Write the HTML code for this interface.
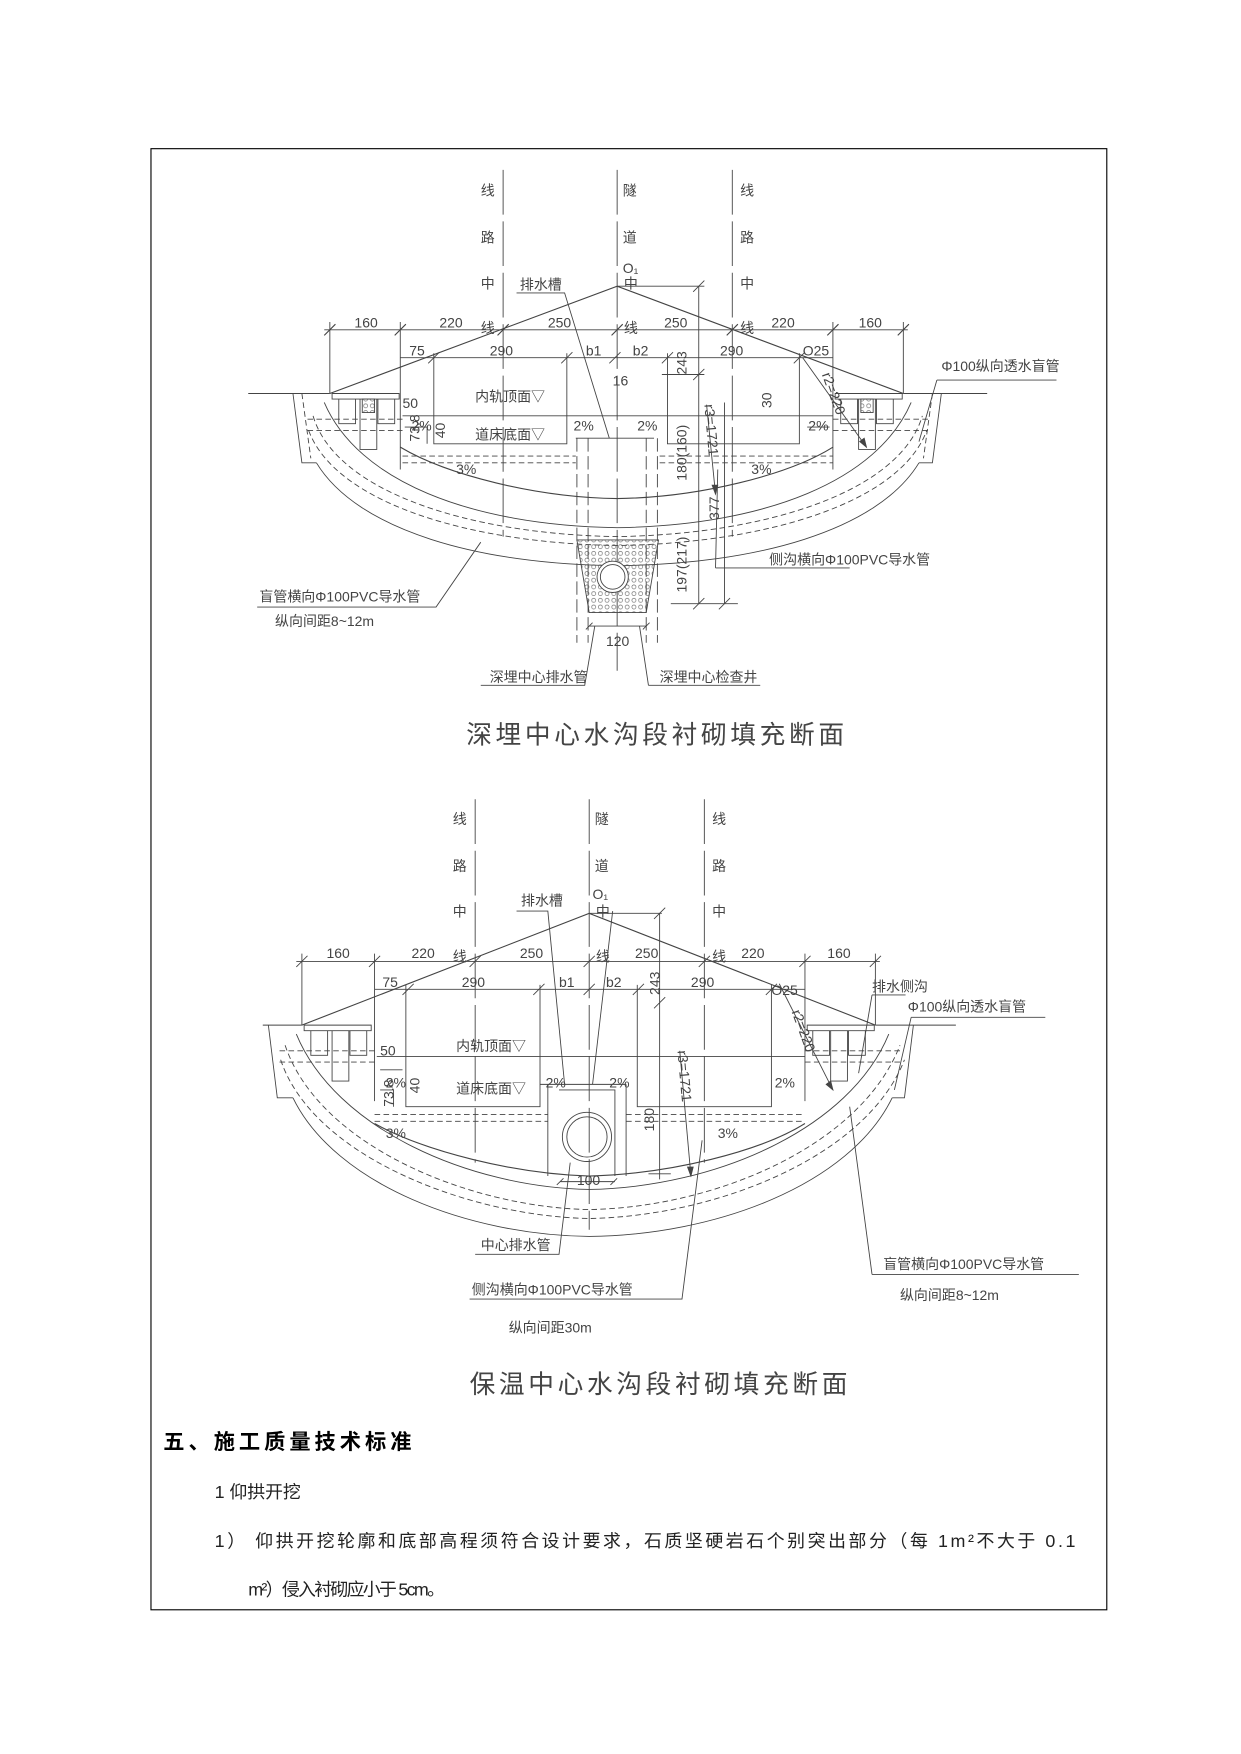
<!DOCTYPE html>
<html><head><meta charset="utf-8"><style>
html,body{margin:0;padding:0;background:#fff}
svg{display:block}
.t{font-family:"Liberation Sans","Noto Sans CJK SC",sans-serif;fill:#444;font-size:12.5px}
.c{font-family:"Liberation Sans","Noto Sans CJK SC",sans-serif;fill:#444;font-size:14px}
</style></head><body>
<svg width="1241" height="1754" viewBox="0 0 1110 1569" xmlns="http://www.w3.org/2000/svg">
<rect x="135" y="133" width="855" height="1307" fill="none" stroke="#000" stroke-width="1"/>
<defs>
<pattern id="grv" width="6" height="6" patternUnits="userSpaceOnUse"><circle cx="3" cy="3" r="1.8" fill="none" stroke="#555" stroke-width="0.5"/></pattern>
</defs>

<!-- ============ DIAGRAM 1 ============ -->
<g stroke="#444" stroke-width="0.8" fill="none">
 <path d="M450,152V480 M552,152V600 M655,152V480" stroke-dasharray="40,6" stroke-width="0.8"/>
 <path d="M222,352H295 M808,352H883"/>
 <path d="M295,352L552,256L808,352" stroke-width="1"/>
 <path d="M552,256H630"/>
 <!-- top dims -->
 <path d="M290,295H812"/>
 <path d="M295,288V352 M358,288V420 M745,288V420 M808,288V352"/>
 <path d="M290,300l10,-10 M353,300l10,-10 M445,300l10,-10 M547,300l10,-10 M650,300l10,-10 M740,300l10,-10 M803,300l10,-10" stroke-width="1"/>
 <path d="M358,320H745"/>
 <path d="M383,325l10,-10 M502,325l10,-10 M545,325l10,-10 M592,325l10,-10 M710,325l10,-10"/>
 <path d="M388,316V397H507V316 M597,316V397H715V316"/>
 <path d="M360,372H745 M362,382H382V397 M515,392H585 M722,382H742"/>
 <!-- drains side -->
 <path d="M297,352h60v5h-60z M303,357h15v22h-15z M322,357h15v45h-15z M338,357h15v22h-15z"/>
 <path d="M747,352h60v5h-60z M752,357h15v22h-15z M768,357h15v45h-15z M784,357h15v22h-15z"/>
 <rect x="324" y="357" width="11" height="12" fill="url(#grv)"/>
 <rect x="770" y="357" width="11" height="12" fill="url(#grv)"/>
 <!-- lining arcs -->
 <path d="M358,400C400,425 480,445 552,446C625,445 705,425 745,400" stroke-width="1"/>
 <path d="M290,360C320,430 420,470 552,472C685,470 785,430 815,360"/>
 <path d="M280,372C300,440 420,478 552,480C685,478 805,440 825,372" stroke-dasharray="5,3"/>
 <path d="M276,385C300,450 420,486 552,488C685,486 805,450 829,385" stroke-dasharray="5,3"/>
 <path d="M283,414C320,475 430,505 552,506C675,505 785,475 822,414"/>
 <path d="M262,352L270,414H283 M842,352L834,414H822"/>
 <path d="M270,352L278,410 M834,352L826,410" stroke-dasharray="5,3"/>
 <path d="M275,375H360 M275,385H360 M745,375H832 M745,385H832" stroke-dasharray="5,3"/>
 <path d="M360,408H515 M360,414H515 M590,408H745 M590,414H745" stroke-dasharray="5,3"/>
 <!-- well -->
 <path d="M516,392V575 M526,392V575 M578,392V575 M588,392V575" stroke-dasharray="12,4"/>
 <path d="M516,483H589L578,548H527Z" fill="url(#grv)"/>
 <circle cx="548" cy="516" r="14" fill="#fff"/><circle cx="548" cy="516" r="11"/>
 <path d="M527,560H578 M524,563l6,-6 M575,563l6,-6"/>
 <!-- right dims -->
 <path d="M625,256V540 M648,360V540 M600,540H660 M592,335H630"/>
 <path d="M620,261l10,-10 M620,340l10,-10 M620,545l10,-10 M643,545l10,-10"/>
 <path d="M632,362L640,442" /><path d="M640,442l-3,-8h5z" fill="#444"/>
 <!-- leaders -->
 <path d="M462,262H505L545,392"/>
 <path d="M838,340H945 M838,340L822,395"/>
 <path d="M718,320L775,400"/><path d="M775,400l-6,-5 4,-3z" fill="#444"/>
 <path d="M640,508H760 M640,508L642,420"/>
 <path d="M230,543H390L430,485"/>
 <path d="M430,613H523L532,560 M580,613H680 M580,613L572,560"/>
</g>
<g class="t">
 <text x="430" y="175">线</text><text x="430" y="217">路</text><text x="430" y="258">中</text><text x="430" y="298">线</text>
 <text x="557" y="175">隧</text><text x="557" y="217">道</text><text x="557" y="244">O₁</text><text x="558" y="258">中</text><text x="558" y="298">线</text>
 <text x="662" y="175">线</text><text x="662" y="217">路</text><text x="662" y="258">中</text><text x="662" y="298">线</text>
 <text x="465" y="259">排水槽</text>
 <text x="317" y="293">160</text><text x="393" y="293">220</text><text x="490" y="293">250</text><text x="594" y="293">250</text><text x="690" y="293">220</text><text x="768" y="293">160</text>
 <text x="366" y="318">75</text><text x="438" y="318">290</text><text x="524" y="318">b1</text><text x="566" y="318">b2</text><text x="644" y="318">290</text><text x="718" y="318">O25</text>
 <text x="360" y="365">50</text><text x="425" y="359">内轨顶面▽</text><text x="425" y="393">道床底面▽</text>
 <text x="368" y="385">2%</text><text x="513" y="385">2%</text><text x="570" y="385">2%</text><text x="723" y="385">2%</text>
 <text x="548" y="345">16</text>
 <text x="408" y="424">3%</text><text x="672" y="424">3%</text>
 <text x="842" y="332">Φ100纵向透水盲管</text>
 <text x="688" y="505">侧沟横向Φ100PVC导水管</text>
 <text x="232" y="538">盲管横向Φ100PVC导水管</text>
 <text x="246" y="560">纵向间距8~12m</text>
 <text x="542" y="578">120</text>
 <text x="438" y="610">深埋中心排水管</text><text x="590" y="610">深埋中心检查井</text>
 <text transform="translate(614,335) rotate(-90)">243</text>
 <text transform="translate(614,430) rotate(-90)">180(160)</text>
 <text transform="translate(614,530) rotate(-90)">197(217)</text>
 <text transform="translate(643,465) rotate(-90)">377</text>
 <text transform="translate(630,362) rotate(85)">r3=1721</text>
 <text transform="translate(735,335) rotate(70)">r2=220</text>
 <text transform="translate(375,395) rotate(-90)">73.8</text><text transform="translate(398,392) rotate(-90)">40</text>
 <text transform="translate(690,365) rotate(-90)">30</text>
</g>
<text class="c" x="417" y="665" style="font-size:23px" textLength="338">深埋中心水沟段衬砌填充断面</text>

<!-- ============ DIAGRAM 2 ============ -->
<g stroke="#444" stroke-width="0.8" fill="none">
 <path d="M425,715V1040 M527,715V1100 M630,715V1040" stroke-dasharray="40,6"/>
 <path d="M235,917H270 M783,917H855"/>
 <path d="M270,917L527,817L783,917" stroke-width="1"/>
 <path d="M527,817H592"/>
 <path d="M265,860H787"/>
 <path d="M270,853V917 M335,853V985 M720,853V985 M783,853V917"/>
 <path d="M265,865l10,-10 M330,865l10,-10 M420,865l10,-10 M522,865l10,-10 M625,865l10,-10 M715,865l10,-10 M778,865l10,-10"/>
 <path d="M335,885H720"/>
 <path d="M360,890l10,-10 M477,890l10,-10 M522,890l10,-10 M566,890l10,-10 M685,890l10,-10"/>
 <path d="M363,881V990H483V881 M570,881V990H690V881"/>
 <path d="M337,945H720 M340,957H360 M340,975H352V990"/>
 <path d="M483,970H560 M490,970V1052 M560,970V1052 M500,975H550V1052"/>
 <path d="M272,917h60v5h-60z M278,922h15v22h-15z M297,922h15v45h-15z M313,922h15v22h-15z"/>
 <path d="M722,917h60v5h-60z M727,922h15v22h-15z M743,922h15v45h-15z M759,922h15v22h-15z"/>
 <path d="M335,1005C380,1030 460,1050 527,1052C600,1050 680,1030 720,1005" stroke-width="1"/>
 <path d="M265,925C300,1010 420,1062 527,1064C640,1062 760,1010 795,925"/>
 <path d="M255,935C285,1025 420,1080 527,1082C640,1080 770,1025 805,935" stroke-dasharray="5,3"/>
 <path d="M251,948C280,1035 420,1088 527,1090C640,1088 775,1035 809,948" stroke-dasharray="5,3"/>
 <path d="M262,982C300,1060 420,1105 527,1106C640,1105 760,1060 798,982"/>
 <path d="M240,917L248,982H262 M817,917L809,982H798"/>
 <path d="M250,940H335 M250,950H335 M720,940H808 M720,950H808" stroke-dasharray="5,3"/>
 <path d="M335,997H490 M335,1003H490 M560,997H720 M560,1003H720" stroke-dasharray="5,3"/>
 <circle cx="525" cy="1017" r="22"/><circle cx="525" cy="1017" r="18"/>
 <path d="M501,1057H550 M498,1060l6,-6 M546,1060l6,-6"/>
 <path d="M590,817V1055 M585,822l10,-10 M585,902l10,-10 M580,1050H600"/>
 <path d="M608,940L618,1052"/><path d="M618,1052l-3,-8h5z" fill="#444"/>
 <path d="M462,815H490L505,970 M548,815L530,970"/>
 <path d="M697,880L745,975"/><path d="M745,975l-6,-5 4,-3z" fill="#444"/>
 <path d="M780,890H810 M780,890L768,960"/>
 <path d="M815,910H935 M815,910L800,975"/>
 <path d="M425,1122H500L510,1040"/>
 <path d="M420,1162H610L628,1020"/>
 <path d="M780,1140H965 M780,1140L760,990"/>
</g>
<g class="t">
 <text x="405" y="737">线</text><text x="405" y="779">路</text><text x="405" y="820">中</text><text x="405" y="860">线</text>
 <text x="532" y="737">隧</text><text x="532" y="779">道</text><text x="530" y="804">O₁</text><text x="533" y="820">中</text><text x="533" y="860">线</text>
 <text x="637" y="737">线</text><text x="637" y="779">路</text><text x="637" y="820">中</text><text x="637" y="860">线</text>
 <text x="466" y="810">排水槽</text>
 <text x="292" y="857">160</text><text x="368" y="857">220</text><text x="465" y="857">250</text><text x="568" y="857">250</text><text x="663" y="857">220</text><text x="740" y="857">160</text>
 <text x="342" y="883">75</text><text x="413" y="883">290</text><text x="500" y="883">b1</text><text x="542" y="883">b2</text><text x="618" y="883">290</text><text x="690" y="890">O25</text>
 <text x="780" y="887">排水侧沟</text><text x="812" y="905">Φ100纵向透水盲管</text>
 <text x="340" y="944">50</text><text x="408" y="940">内轨顶面▽</text><text x="408" y="978">道床底面▽</text>
 <text x="345" y="973">2%</text><text x="488" y="973">2%</text><text x="545" y="973">2%</text><text x="693" y="973">2%</text>
 <text x="345" y="1018">3%</text><text x="642" y="1018">3%</text>
 <text x="516" y="1060">100</text>
 <text x="430" y="1118">中心排水管</text>
 <text x="422" y="1158">侧沟横向Φ100PVC导水管</text>
 <text x="455" y="1192">纵向间距30m</text>
 <text x="790" y="1135">盲管横向Φ100PVC导水管</text>
 <text x="805" y="1163">纵向间距8~12m</text>
 <text transform="translate(590,890) rotate(-90)">243</text>
 <text transform="translate(585,1012) rotate(-90)">180</text>
 <text transform="translate(606,940) rotate(85)">r3=1721</text>
 <text transform="translate(708,905) rotate(70)">r2=220</text>
 <text transform="translate(352,990) rotate(-90)">73.8</text><text transform="translate(375,978) rotate(-90)">40</text>
</g>
<text class="c" x="420" y="1246" style="font-size:23px" textLength="338">保温中心水沟段衬砌填充断面</text>

<!-- ============ TEXT ============ -->
<text x="146" y="1296" style="font-family:'Liberation Sans','Noto Sans CJK SC',sans-serif;font-size:19px;font-weight:bold" fill="#000" textLength="222">五、施工质量技术标准</text>
<text x="192" y="1340" style="font-family:'Liberation Sans','Noto Sans CJK SC',sans-serif;font-size:16px" fill="#222" textLength="77">1 仰拱开挖</text>
<text x="192" y="1384" style="font-family:'Liberation Sans','Noto Sans CJK SC',sans-serif;font-size:16px" fill="#222" textLength="770">1） 仰拱开挖轮廓和底部高程须符合设计要求，石质坚硬岩石个别突出部分（每 1m²不大于 0.1</text>
<text x="222" y="1427" style="font-family:'Liberation Sans','Noto Sans CJK SC',sans-serif;font-size:16px" fill="#222" textLength="176">m²）侵入衬砌应小于 5cm。</text>
</svg>
</body></html>
